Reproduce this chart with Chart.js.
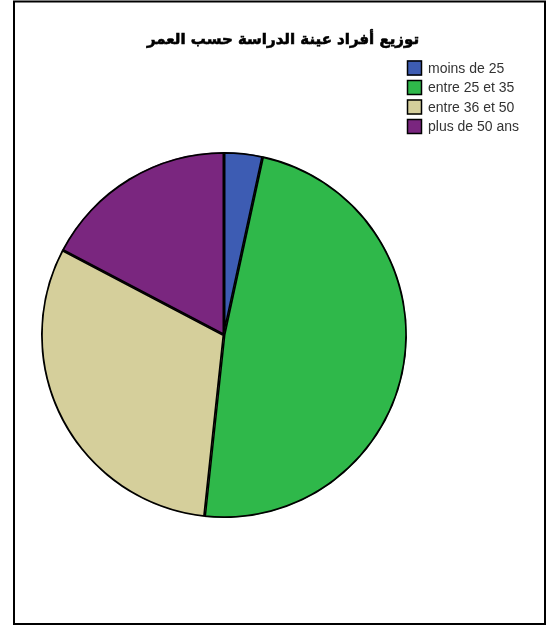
<!DOCTYPE html>
<html>
<head>
<meta charset="utf-8">
<script src="https://cdn.jsdelivr.net/npm/chart.js@4/dist/chart.umd.min.js"></script>
<style>
html,body{margin:0;padding:0;background:#fff;}
#wrap{position:relative;width:547px;height:626px;}
</style>
</head>
<body>
<div id="wrap"><canvas id="c" width="547" height="626"></canvas></div>
<script>
const title = "توزيع أفراد عينة الدراسة حسب العمر";
const categories = ["moins de 25", "entre 25 et 35", "entre 36 et 50", "plus de 50 ans"];
const percentages = [3.4, 48.3, 31.0, 17.3];
const colors = ["#3d5cb3", "#2fb84a", "#d5cf9b", "#7a267f"];

const overlay = {
  id: 'overlay',
  afterDraw(chart) {
    const ctx = chart.ctx;
    ctx.save();
    // frame
    ctx.strokeStyle = '#000';
    ctx.lineWidth = 2;
    ctx.strokeRect(14, 1.5, 531, 622.5);
    // title
    ctx.fillStyle = '#000';
    ctx.strokeStyle = '#000';
    ctx.lineWidth = 0.6;
    ctx.font = 'bold 15px "DejaVu Sans", sans-serif';
    ctx.textAlign = 'center';
    ctx.textBaseline = 'middle';
    ctx.direction = 'rtl';
    ctx.fillText(title, 283, 40);
    ctx.strokeText(title, 283, 40);
    ctx.direction = 'ltr';
    // legend
    ctx.font = '14px "Liberation Sans", Arial, sans-serif';
    ctx.textAlign = 'left';
    categories.forEach((lab, i) => {
      const y = 68 + i * 19.5;
      ctx.fillStyle = colors[i];
      ctx.fillRect(407, y - 7.5, 15, 15);
      ctx.strokeStyle = '#000';
      ctx.lineWidth = 1.5;
      ctx.strokeRect(407.5, y - 7, 14, 14);
      ctx.fillStyle = '#333';
      ctx.fillText(lab, 428, y + 1);
    });
    ctx.restore();
  }
};

new Chart(document.getElementById('c'), {
  type: 'pie',
  data: {
    labels: categories,
    datasets: [{
      data: percentages,
      backgroundColor: colors,
      borderColor: '#000',
      borderWidth: 1.5,
      borderAlign: 'inner'
    }]
  },
  options: {
    responsive: false,
    animation: false,
    layout: { padding: { left: 41, right: 140, top: 152, bottom: 108 } },
    plugins: { legend: { display: false }, title: { display: false }, tooltip: { enabled: false } }
  },
  plugins: [overlay]
});
</script>
</body>
</html>
